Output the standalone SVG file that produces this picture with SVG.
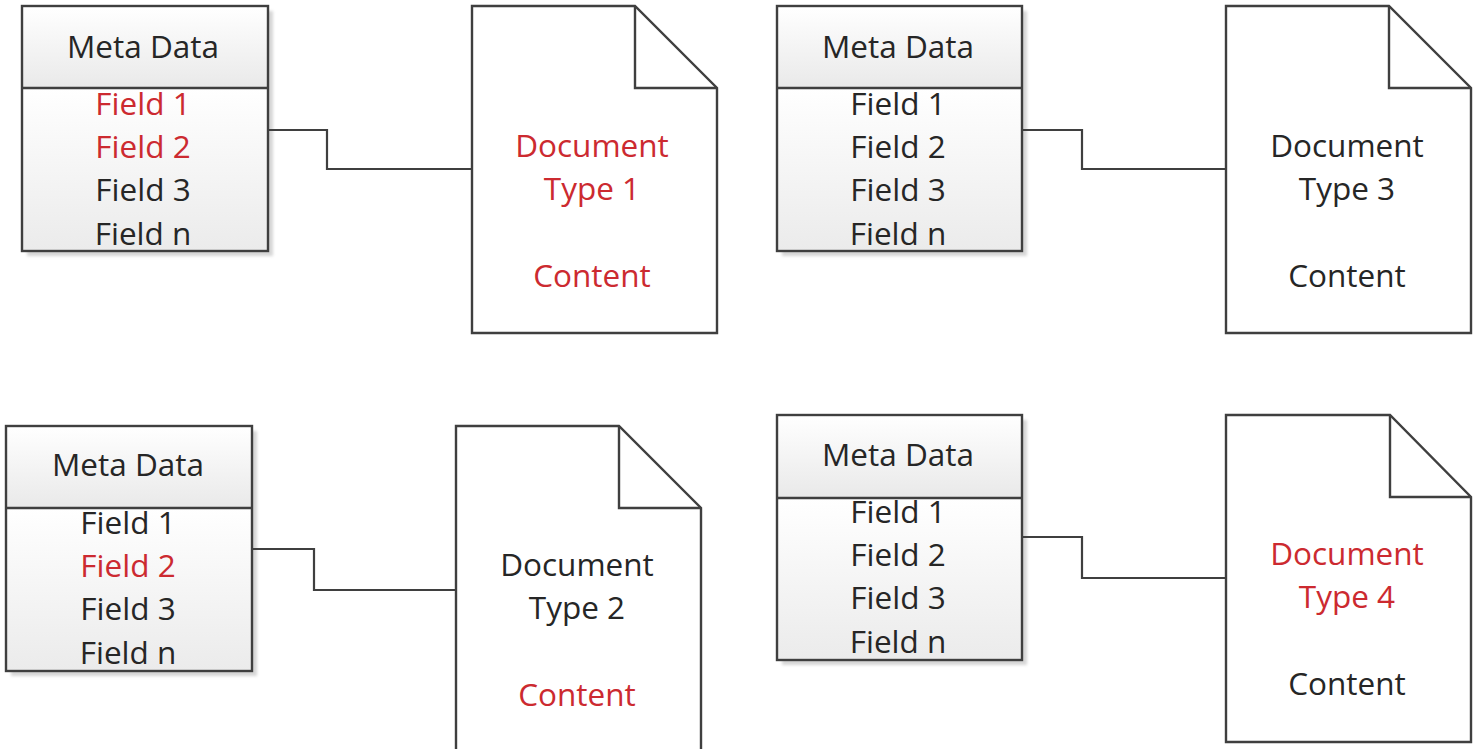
<svg xmlns="http://www.w3.org/2000/svg" width="1478" height="749" viewBox="0 0 1478 749">
  <defs>
    <linearGradient id="hdrFill" x1="0" y1="0" x2="0" y2="1">
      <stop offset="0" stop-color="#ffffff"/>
      <stop offset="1" stop-color="#e9e9e9"/>
    </linearGradient>
    <linearGradient id="bodyFill" x1="0" y1="0" x2="0" y2="1">
      <stop offset="0" stop-color="#ffffff"/>
      <stop offset="1" stop-color="#ebebeb"/>
    </linearGradient>
    <filter id="soft" x="-10%" y="-10%" width="120%" height="120%">
      <feGaussianBlur stdDeviation="1.5"/>
    </filter>
  </defs>
  <style>
    .shadow { fill: #d6d6d6; filter: url(#soft); }
    .frame { stroke: #3f3f3f; stroke-width: 2.4; }
    .hdr { fill: url(#hdrFill); }
    .body { fill: url(#bodyFill); }
    .doc { fill: #ffffff; stroke: #3f3f3f; stroke-width: 2.4; stroke-linejoin: miter; }
    .fold { fill: none; stroke: #3f3f3f; stroke-width: 2.4; }
    .wire { fill: none; stroke: #3f3f3f; stroke-width: 2.2; }
    text { font-family: "Open Sans", "Liberation Sans", sans-serif; font-size: 31.5px; text-anchor: middle; fill: #262626; }
    text.hl { fill: #cc2a30; }
  </style>
  <rect width="1478" height="749" fill="#ffffff"/>

  <!-- Meta data table 1 -->
  <g id="meta1">
    <rect class="shadow" x="27" y="11" width="246" height="245"/>
    <rect class="hdr" x="22" y="6" width="246" height="82"/>
    <rect class="body" x="22" y="88" width="246" height="163"/>
    <rect class="frame" x="22" y="6" width="246" height="245" fill="none"/>
    <line class="frame" x1="22" y1="88" x2="268" y2="88"/>
    <text x="143" y="58">Meta Data</text>
    <text class="hl" x="143" y="115">Field 1</text>
    <text class="hl" x="143" y="158">Field 2</text>
    <text x="143" y="201">Field 3</text>
    <text x="143" y="245">Field n</text>
  </g>

  <!-- Document type 1 -->
  <g id="doc1">
    <path class="doc" d="M472,6 H635 L717,88 V333 H472 Z"/>
    <polyline class="fold" points="635,6 635,88 717,88"/>
    <text class="hl" x="592" y="157">Document</text>
    <text class="hl" x="592" y="200">Type 1</text>
    <text class="hl" x="592" y="287">Content</text>
  </g>

  <!-- Meta data table 3 -->
  <g id="meta3">
    <rect class="shadow" x="782" y="11" width="245" height="245"/>
    <rect class="hdr" x="777" y="6" width="245" height="82"/>
    <rect class="body" x="777" y="88" width="245" height="163"/>
    <rect class="frame" x="777" y="6" width="245" height="245" fill="none"/>
    <line class="frame" x1="777" y1="88" x2="1022" y2="88"/>
    <text x="898" y="58">Meta Data</text>
    <text x="898" y="115">Field 1</text>
    <text x="898" y="158">Field 2</text>
    <text x="898" y="201">Field 3</text>
    <text x="898" y="245">Field n</text>
  </g>

  <!-- Document type 3 -->
  <g id="doc3">
    <path class="doc" d="M1226,6 H1389 L1471,88 V333 H1226 Z"/>
    <polyline class="fold" points="1389,6 1389,88 1471,88"/>
    <text x="1347" y="157">Document</text>
    <text x="1347" y="200">Type 3</text>
    <text x="1347" y="287">Content</text>
  </g>

  <!-- Meta data table 2 -->
  <g id="meta2">
    <rect class="shadow" x="11" y="431" width="246" height="245"/>
    <rect class="hdr" x="6" y="426" width="246" height="82"/>
    <rect class="body" x="6" y="508" width="246" height="163"/>
    <rect class="frame" x="6" y="426" width="246" height="245" fill="none"/>
    <line class="frame" x1="6" y1="508" x2="252" y2="508"/>
    <text x="128" y="476">Meta Data</text>
    <text x="128" y="534">Field 1</text>
    <text class="hl" x="128" y="577">Field 2</text>
    <text x="128" y="620">Field 3</text>
    <text x="128" y="664">Field n</text>
  </g>

  <!-- Document type 2 (runs past the bottom edge) -->
  <g id="doc2">
    <path class="doc" d="M456,426 H619 L701,508 V770 H456 Z"/>
    <polyline class="fold" points="619,426 619,508 701,508"/>
    <text x="577" y="576">Document</text>
    <text x="577" y="619">Type 2</text>
    <text class="hl" x="577" y="706">Content</text>
  </g>

  <!-- Meta data table 4 -->
  <g id="meta4">
    <rect class="shadow" x="782" y="420" width="245" height="245"/>
    <rect class="hdr" x="777" y="415" width="245" height="83"/>
    <rect class="body" x="777" y="498" width="245" height="162"/>
    <rect class="frame" x="777" y="415" width="245" height="245" fill="none"/>
    <line class="frame" x1="777" y1="498" x2="1022" y2="498"/>
    <text x="898" y="466">Meta Data</text>
    <text x="898" y="523">Field 1</text>
    <text x="898" y="566">Field 2</text>
    <text x="898" y="609">Field 3</text>
    <text x="898" y="653">Field n</text>
  </g>

  <!-- Document type 4 -->
  <g id="doc4">
    <path class="doc" d="M1226,415 H1390 L1471,497 V742 H1226 Z"/>
    <polyline class="fold" points="1390,415 1390,497 1471,497"/>
    <text class="hl" x="1347" y="565">Document</text>
    <text class="hl" x="1347" y="608">Type 4</text>
    <text x="1347" y="695">Content</text>
  </g>

  <!-- connectors between meta data tables and documents, drawn over the shadows -->
  <g id="connectors">
    <polyline class="wire" points="268,130 327,130 327,169 472,169"/>
    <polyline class="wire" points="1022,130 1082,130 1082,169 1226,169"/>
    <polyline class="wire" points="252,549 314,549 314,590 456,590"/>
    <polyline class="wire" points="1022,537 1082,537 1082,578 1226,578"/>
  </g>
</svg>
